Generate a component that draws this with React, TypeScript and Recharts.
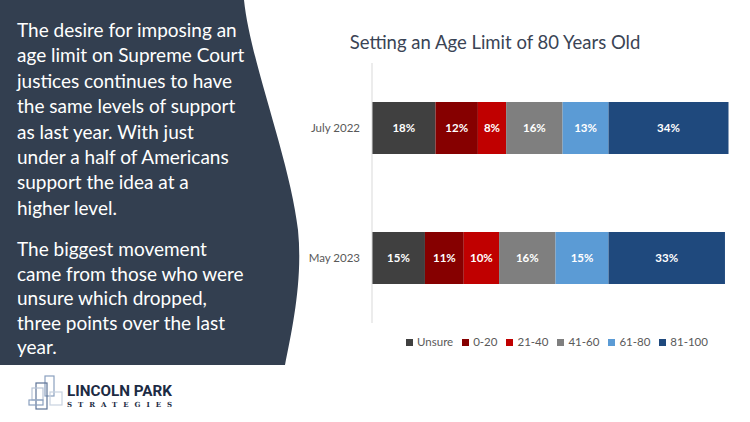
import React from "react";
import {
  BarChart,
  Bar,
  XAxis,
  YAxis,
  LabelList,
} from "recharts";

const categories = ["July 2022", "May 2023"];
const seriesNames = ["Unsure", "0-20", "21-40", "41-60", "61-80", "81-100"];
const seriesColors = ["#404040", "#860000", "#C00000", "#7F7F7F", "#5B9BD5", "#1F497D"];

const unsure = [18, 15];
const range0to20 = [12, 11];
const range21to40 = [8, 10];
const range41to60 = [16, 16];
const range61to80 = [13, 15];
const range81to100 = [34, 33];

const seriesValues = [unsure, range0to20, range21to40, range41to60, range61to80, range81to100];

const data = categories.map((name, i) => {
  const row: Record<string, string | number> = { name };
  seriesNames.forEach((s, j) => {
    row[s] = seriesValues[j][i];
  });
  return row;
});

const introLines = [
  "The desire for imposing an",
  "age limit on Supreme Court",
  "justices continues to have",
  "the same levels of support",
  "as last year. With just",
  "under a half of Americans",
  "support the idea at a",
  "higher level.",
];

const movementLines = [
  "The biggest movement",
  "came from those who were",
  "unsure which dropped,",
  "three points over the last",
  "year.",
];

const FONT = "Lato, 'Open Sans', sans-serif";

function LegendRow() {
  return (
    <div
      style={{
        position: "absolute",
        left: 300,
        width: 514,
        top: 335,
        display: "flex",
        justifyContent: "center",
        gap: 9,
        fontFamily: FONT,
        fontSize: 11.5,
        lineHeight: "14px",
        color: "#595959",
      }}
    >
      {seriesNames.map((s, i) => (
        <span key={s} style={{ display: "flex", alignItems: "center" }}>
          <span
            style={{
              width: 7,
              height: 7,
              background: seriesColors[i],
              marginRight: 4,
              display: "inline-block",
            }}
          />
          {s}
        </span>
      ))}
    </div>
  );
}

function Logo() {
  return (
    <svg width={200} height={50} style={{ position: "absolute", left: 0, top: 372 }}>
      <g fill="none" strokeWidth={1.2}>
        <rect x={45} y={4} width={9} height={20} stroke="#8aa0bf" />
        <rect x={36} y={11} width={11} height={26} stroke="#5d7397" />
        <rect x={32} y={16} width={11} height={12} stroke="#b7c4d6" />
        <rect x={29} y={28} width={14} height={5} stroke="#8aa0bf" />
        <rect x={50} y={20} width={12} height={13} stroke="#c8d2e0" />
      </g>
      <text
        x={67}
        y={24}
        fontFamily="Roboto, sans-serif"
        fontWeight={700}
        fontSize={14.5}
        fill="#1c2b44"
        textLength={105}
        lengthAdjust="spacingAndGlyphs"
      >
        LINCOLN PARK
      </text>
      <text
        x={67}
        y={35}
        fontFamily="'DejaVu Serif', serif"
        fontWeight={700}
        fontSize={7}
        fill="#1c2b44"
        textLength={105}
        lengthAdjust="spacing"
      >
        STRATEGIES
      </text>
    </svg>
  );
}

export default function App() {
  return (
    <div style={{ position: "relative", width: 750, height: 422, background: "#fff", overflow: "hidden" }}>
      <style>{`body{margin:0}`}</style>
      <svg width={320} height={422} style={{ position: "absolute", left: 0, top: 0 }}>
        <path
          d="M0 0 H244 C250 60 290 160 298 230 C303 280 292 330 285 365 H0 Z"
          fill="#333F50"
        />
      </svg>
      <div
        style={{
          position: "absolute",
          left: 17,
          top: 17,
          fontFamily: FONT,
          fontSize: 19,
          lineHeight: "25.4px",
          color: "#fff",
          whiteSpace: "nowrap",
        }}
      >
        {introLines.map((l) => (
          <div key={l}>{l}</div>
        ))}
      </div>
      <div
        style={{
          position: "absolute",
          left: 17,
          top: 237,
          fontFamily: FONT,
          fontSize: 19,
          lineHeight: "24.5px",
          color: "#fff",
          whiteSpace: "nowrap",
        }}
      >
        {movementLines.map((l) => (
          <div key={l}>{l}</div>
        ))}
      </div>
      <Logo />
      <div
        style={{
          position: "absolute",
          left: 300,
          width: 390,
          top: 31,
          textAlign: "center",
          fontFamily: FONT,
          fontSize: 18.5,
          color: "#3A4455",
        }}
      >
        Setting an Age Limit of 80 Years Old
      </div>
      <div style={{ position: "absolute", left: 0, top: 0 }}>
        <BarChart
          width={750}
          height={422}
          data={data}
          layout="vertical"
          margin={{ top: 63, right: 21.5, bottom: 99, left: 0 }}
        >
          <XAxis type="number" hide domain={[0, 101]} />
          <YAxis
            type="category"
            dataKey="name"
            width={372}
            tickSize={0}
            tickMargin={12}
            axisLine={{ stroke: "#D9D9D9" }}
            tickLine={false}
            tick={{ fontFamily: FONT, fontSize: 11.5, fill: "#595959" }}
          />
          {seriesNames.map((s, i) => (
            <Bar
              key={s}
              dataKey={s}
              stackId="a"
              fill={seriesColors[i]}
              barSize={52}
              isAnimationActive={false}
            >
              <LabelList
                dataKey={s}
                position="center"
                fill="#fff"
                fontFamily={FONT}
                fontWeight={700}
                fontSize={11.5}
                formatter={(v: number) => `${v}%`}
              />
            </Bar>
          ))}
        </BarChart>
      </div>
      <LegendRow />
    </div>
  );
}
